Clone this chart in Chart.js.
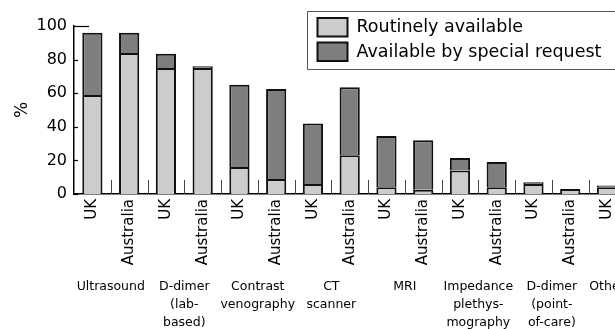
<!DOCTYPE html>
<html>
<head>
<meta charset="utf-8">
<script src="https://cdn.jsdelivr.net/npm/chart.js@4.4.1/dist/chart.umd.min.js"></script>
<style>
  html, body { margin: 0; padding: 0; background: #fff; overflow: hidden; }
  #wrap { width: 630px; height: 329px; }
</style>
</head>
<body>
<div id="wrap"><canvas id="chart" width="630" height="329"></canvas></div>
<script>
// bar labels (one per bar), group labels under each pair
const barLabels = ['UK', 'Australia', 'UK', 'Australia', 'UK', 'Australia', 'UK', 'Australia',
    'UK', 'Australia', 'UK', 'Australia', 'UK', 'Australia', 'UK'];
const groupLabels = [
    ['Ultrasound'],
    ['D-dimer', '(lab-', 'based)'],
    ['Contrast', 'venography'],
    ['CT', 'scanner'],
    ['MRI'],
    ['Impedance', 'plethys-', 'mography'],
    ['D-dimer', '(point-', 'of-care)'],
    ['Other']
];
const groupSizes = [2, 2, 2, 2, 2, 2, 2, 1];

// % of respondents
const routinelyAvailable = [59, 84, 75, 75, 16, 9, 6, 23, 4, 2.5, 14, 4, 6, 3, 4];
const specialRequest = [37, 12, 8.5, 1, 49, 53.5, 36, 40.5, 30.5, 29.5, 7.5, 15, 1, 0, 1];

const yTicks = [0, 20, 40, 60, 80, 100];

const FONT = 'DejaVu Sans';

const decorations = {
    id: 'decorations',
    afterDraw(chart) {
        const { ctx, chartArea, scales } = chart;
        const x = scales.x, y = scales.y;
        ctx.save();

        // inward ticks on the y axis
        ctx.strokeStyle = '#000';
        ctx.lineWidth = 1.2;
        yTicks.forEach(v => {
            const py = Math.round(y.getPixelForValue(v)) + 0.5;
            const len = v === 100 ? 15 : 4;
            ctx.beginPath();
            ctx.moveTo(chartArea.left, py);
            ctx.lineTo(chartArea.left + len, py);
            ctx.stroke();
        });

        // separators between bars, rising from the x axis
        ctx.strokeStyle = '#444';
        ctx.lineWidth = 1;
        for (let i = 0; i < barLabels.length - 1; i++) {
            const px = Math.round((x.getPixelForValue(i) + x.getPixelForValue(i + 1)) / 2) + 0.5;
            ctx.beginPath();
            ctx.moveTo(px, chartArea.bottom - 14);
            ctx.lineTo(px, chartArea.bottom);
            ctx.stroke();
        }

        // group labels under the pairs
        ctx.fillStyle = '#000';
        ctx.font = `12.5px ${FONT}`;
        ctx.textAlign = 'center';
        ctx.textBaseline = 'middle';
        let start = 0;
        groupLabels.forEach((lines, g) => {
            const end = start + groupSizes[g] - 1;
            const cx = (x.getPixelForValue(start) + x.getPixelForValue(end)) / 2;
            lines.forEach((line, k) => {
                ctx.fillText(line, cx, 287 + k * 18);
            });
            start = end + 1;
        });

        // legend box, top right (runs off the right edge)
        const lx = 307.5, ly = 11.5, lr = chart.width + 10;
        ctx.strokeStyle = '#555';
        ctx.lineWidth = 1;
        ctx.beginPath();
        ctx.moveTo(lr, ly);
        ctx.lineTo(lx, ly);
        ctx.lineTo(lx, ly + 58);
        ctx.lineTo(lr, ly + 58);
        ctx.stroke();
        ctx.font = `17.5px ${FONT}`;
        ctx.textAlign = 'left';
        chart.data.datasets.forEach((ds, i) => {
            const sy = ly + 6.5 + i * 24.5;
            ctx.fillStyle = ds.backgroundColor;
            ctx.fillRect(lx + 10, sy, 30, 18.5);
            ctx.strokeStyle = '#111';
            ctx.lineWidth = 2;
            ctx.strokeRect(lx + 10, sy, 30, 18.5);
            ctx.fillStyle = '#000';
            ctx.fillText(ds.label, lx + 49, sy + 9.5);
        });

        ctx.restore();
    }
};

new Chart(document.getElementById('chart'), {
    type: 'bar',
    data: {
        labels: barLabels,
        datasets: [{
            label: 'Routinely available',
            data: routinelyAvailable,
            backgroundColor: '#cccccc',
            borderColor: '#111',
            borderWidth: 2
        }, {
            label: 'Available by special request',
            data: specialRequest,
            backgroundColor: '#7e7e7e',
            borderColor: '#111',
            borderWidth: 2
        }]
    },
    options: {
        responsive: false,
        animation: false,
        barPercentage: 0.55,
        categoryPercentage: 1,
        layout: { padding: { top: 26, right: 0 } },
        plugins: { legend: { display: false }, tooltip: { enabled: false } },
        scales: {
            x: {
                stacked: true,
                grid: { display: false, drawTicks: false },
                border: { color: '#000', width: 1.5 },
                ticks: {
                    autoSkip: false, minRotation: 90, maxRotation: 90, padding: 5,
                    color: '#000', font: { family: FONT, size: 15 }
                },
                afterFit(scale) { scale.height = 135; }
            },
            y: {
                stacked: true,
                min: 0,
                max: 100,
                grid: { display: false, drawTicks: false },
                border: { color: '#000', width: 1.5 },
                ticks: {
                    stepSize: 20, padding: 7,
                    color: '#000', font: { family: FONT, size: 16 }
                },
                title: {
                    display: true, text: '%', color: '#000',
                    font: { family: FONT, size: 17 },
                    padding: { top: 12, bottom: 0 }
                },
                afterFit(scale) { scale.width = 74; }
            }
        }
    },
    plugins: [decorations]
});
</script>
</body>
</html>
